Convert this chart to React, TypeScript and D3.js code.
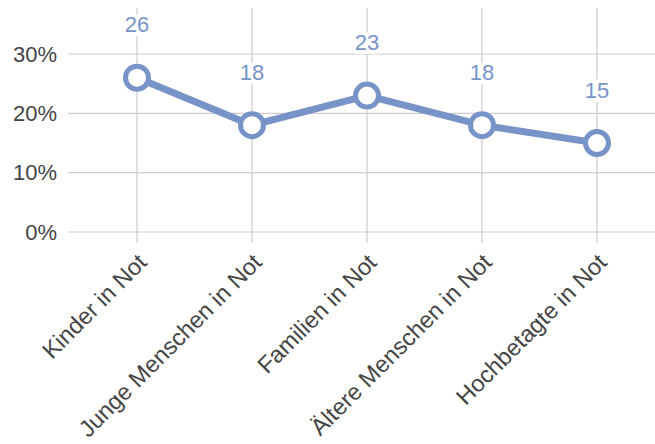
import React from "react";
import * as d3 from "d3";

const categories = ["Kinder in Not", "Junge Menschen in Not", "Familien in Not", "Ältere Menschen in Not", "Hochbetagte in Not"];
const values = [26, 18, 23, 18, 15];
const yTicks = [0, 10, 20, 30];

const W = 655, H = 444;
const FONT = "'Liberation Sans', Arial, sans-serif";
const LINE = "#7793c8";

export default function App() {
  const x = d3.scaleBand<string>().domain(categories).range([79.5, 654.5]);
  const y = d3.scaleLinear().domain([0, 30]).range([232, 54]);
  const cx = (c: string) => (x(c) ?? 0) + x.bandwidth() / 2;
  const line = d3.line<number>().x((_, i) => cx(categories[i])).y((v) => y(v));
  return (
    <svg width={W} height={H} style={{ position: "absolute", left: 0, top: 0, fontFamily: FONT }}>
      <rect width={W} height={H} fill="#fff" />
      {categories.map((c) => (
        <line key={c} x1={cx(c)} x2={cx(c)} y1={8} y2={243} stroke="#cccccc" strokeWidth={1.2} />
      ))}
      {yTicks.map((t) => (
        <g key={t}>
          <line x1={68} x2={W} y1={y(t)} y2={y(t)} stroke="#cccccc" strokeWidth={1.2} />
          <text x={57} y={y(t)} dy="0.35em" textAnchor="end" fontSize={22} fill="#444">{t}%</text>
        </g>
      ))}
      <path d={line(values) ?? ""} fill="none" stroke={LINE} strokeWidth={7} strokeLinejoin="round" />
      {values.map((v, i) => (
        <circle key={i} cx={cx(categories[i])} cy={y(v)} r={11.5} fill="#fff" stroke={LINE} strokeWidth={5} />
      ))}
      {values.map((v, i) => (
        <text key={"l" + i} x={cx(categories[i])} y={y(v) - 53} dy="0.35em" textAnchor="middle" fontSize={22}
          fill={LINE} stroke="#fff" strokeWidth={8} paintOrder="stroke" strokeLinejoin="round">{v}</text>
      ))}
      {categories.map((c) => (
        <text key={"x" + c} transform={`translate(${cx(c) + 11},${264}) rotate(-45)`} textAnchor="end"
          fontSize={23.5} fill="#444">{c}</text>
      ))}
    </svg>
  );
}
